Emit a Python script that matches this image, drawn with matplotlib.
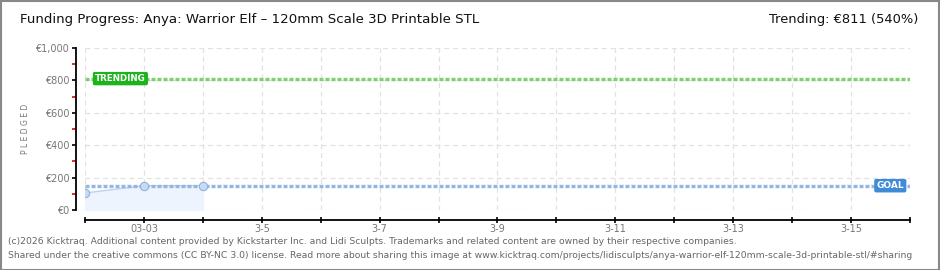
import matplotlib.pyplot as plt
from matplotlib.patches import Rectangle

# data
days = [0, 1, 2]                 # days after 03-02
pledged = [105, 150, 150]
goal = 150
trending = 811
tick_days = [1, 3, 5, 7, 9, 11, 13]
tick_labels = ['03-03', '3-5', '3-7', '3-9', '3-11', '3-13', '3-15']
y_ticks = [0, 200, 400, 600, 800, 1000]
y_labels = ['€0', '€200', '€400', '€600', '€800', '€1,000']

W, H = 940, 270
px = 72 / 100  # points per pixel
fig = plt.figure(figsize=(W / 100, H / 100), dpi=100)
ax = fig.add_axes([85 / W, 1 - 210 / H, 825 / W, 162 / H])

ax.set_xlim(0, 14)
ax.set_ylim(0, 1000)

# grid
for d in range(0, 15):
    ax.axvline(d, color='#e2e2e2', lw=0.9, ls=(0, (4, 3)), zorder=0)
for v in y_ticks:
    ax.axhline(v, color='#e2e2e2', lw=0.9, ls=(0, (4, 3)), zorder=0)

# pledged series
ax.fill_between(days, pledged, 0, color='#edf4fd', zorder=1)
ax.plot(days, pledged, color='#b9d3f0', lw=1, zorder=2)
ax.plot(days, pledged, 'o', ms=6, mfc='#c6dcf6', mec='#8fb2dc', mew=0.8, zorder=5)

# goal and trending lines
ax.axhline(trending, color='#7fd06f', lw=2.4, ls=(0, (1.2, 0.6)), zorder=3)
ax.axhline(goal, color='#93b7e0', lw=2.4, ls=(0, (1.2, 0.6)), zorder=3)

ax.text(0.17, trending, 'TRENDING', color='white', fontsize=6.3, fontweight='bold',
        va='center', ha='left', zorder=6,
        bbox=dict(boxstyle='round,pad=0.25,rounding_size=0.2', fc='#1db31d', ec='none'))
ax.text(13.9, goal, 'GOAL', color='white', fontsize=6.5, fontweight='bold',
        va='center', ha='right', zorder=6,
        bbox=dict(boxstyle='round,pad=0.25,rounding_size=0.2', fc='#3f8bd8', ec='none'))

# axes styling
for s in ['top', 'right']:
    ax.spines[s].set_visible(False)
ax.spines['left'].set_position(('outward', 9 * px))
ax.spines['bottom'].set_position(('outward', 10 * px))
ax.spines['left'].set_linewidth(1.3)
ax.spines['bottom'].set_linewidth(1.3)

ax.set_xticks(range(0, 15))
ax.set_xticklabels(['' if d not in tick_days else tick_labels[tick_days.index(d)]
                    for d in range(0, 15)])
ax.tick_params(axis='x', direction='inout', length=6 * px, width=1.2, colors='black',
               labelcolor='#777777', labelsize=7, pad=1)
ax.set_yticks(y_ticks)
ax.set_yticklabels(y_labels)
ax.set_yticks([100, 300, 500, 700, 900], minor=True)
ax.tick_params(axis='y', which='major', direction='out', length=4 * px, width=1.2,
               labelcolor='#777777', labelsize=7, pad=2)
ax.tick_params(axis='y', which='minor', direction='out', length=4 * px, width=1.2,
               color='#ee0000')
ax.set_ylabel('P L E D G E D', color='#777777', fontsize=5.5, labelpad=4)

# titles
fig.text(20 / W, 1 - 20 / H, 'Funding Progress: Anya: Warrior Elf – 120mm Scale 3D Printable STL',
         fontsize=9.6, va='center', ha='left', color='#111111', family='DejaVu Sans Condensed')
fig.text(918 / W, 1 - 20 / H, 'Trending: €811 (540%)',
         fontsize=9.4, va='center', ha='right', color='#111111', family='DejaVu Sans Condensed')

# footer
fig.text(8 / W, 1 - 242 / H,
         '(c)2026 Kicktraq. Additional content provided by Kickstarter Inc. and Lidi Sculpts. '
         'Trademarks and related content are owned by their respective companies.',
         fontsize=6.7, color='#666666', va='center', ha='left')
fig.text(8 / W, 1 - 255 / H,
         'Shared under the creative commons (CC BY-NC 3.0) license. Read more about sharing this image at '
         'www.kicktraq.com/projects/lidisculpts/anya-warrior-elf-120mm-scale-3d-printable-stl/#sharing',
         fontsize=6.7, color='#666666', va='center', ha='left')

# outer frame
fig.patches.append(Rectangle((0.5 / W, 0.5 / H), 1 - 2 / W, 1 - 1.5 / H, transform=fig.transFigure,
                             fill=False, ec='#888888', lw=1.5))

fig.savefig('out.png', dpi=100)
